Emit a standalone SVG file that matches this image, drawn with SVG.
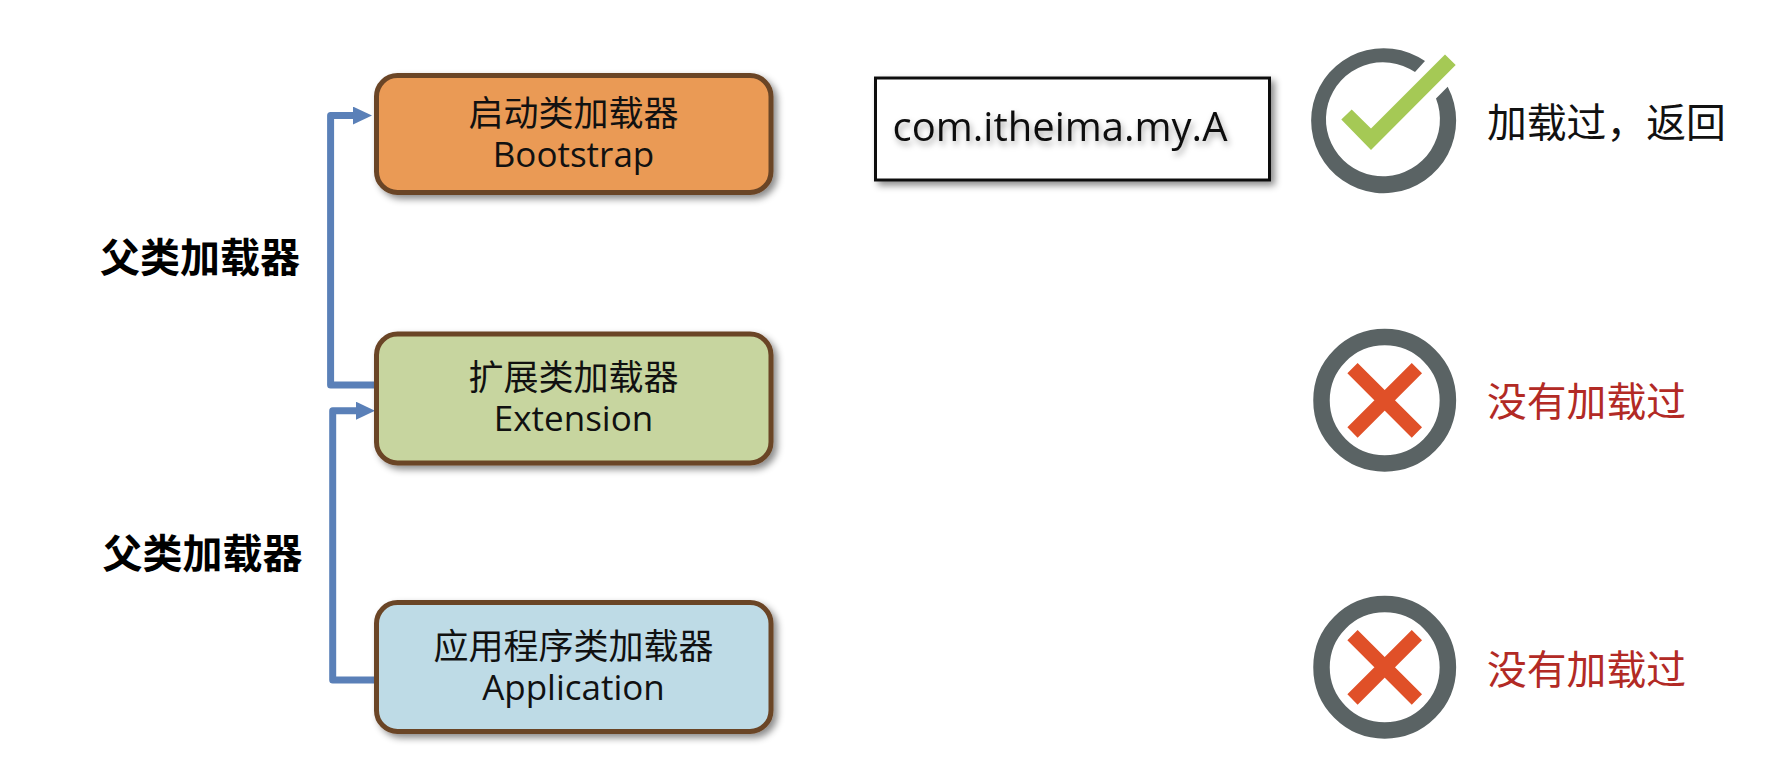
<svg xmlns="http://www.w3.org/2000/svg" width="1788" height="766" viewBox="0 0 1788 766">
<style>
text{font-family:"Open Sans","Noto Sans CJK SC",sans-serif;fill:#111;text-anchor:middle}
.box{stroke:#6a4425;stroke-width:5;filter:url(#sh)}
.t{font-size:35px}
.cn{font-family:"Noto Sans CJK SC",sans-serif}
.lab{font-family:"Noto Sans CJK SC",sans-serif;font-size:40px;font-weight:700;fill:#000}
.res{font-family:"Noto Sans CJK SC",sans-serif;font-size:39.8px;text-anchor:start}
.red{fill:#b22a25}
.ring{fill:none;stroke:#5a6364;stroke-width:16.5}
.x{stroke:#e05028;stroke-width:14.5;fill:none}
.con{fill:none;stroke:#5a80b8;stroke-width:7;stroke-linejoin:round}
</style>
<defs>
<filter id="sh" x="-10%" y="-15%" width="120%" height="135%"><feDropShadow dx="4" dy="4" stdDeviation="3.5" flood-color="#000" flood-opacity="0.45"/></filter>
<filter id="ts" x="-10%" y="-30%" width="120%" height="170%"><feDropShadow dx="2" dy="4" stdDeviation="3" flood-color="#000" flood-opacity="0.35"/></filter>
<marker id="arr" markerUnits="userSpaceOnUse" markerWidth="19" markerHeight="18" refX="1" refY="9" orient="auto"><path d="M0,0L19,9L0,18Z" fill="#5a80b8"/></marker>
<g id="cross"><circle class="ring" r="63.2"/><path class="x" d="M-32.2,-32.2L32.2,32.2M32.2,-32.2L-32.2,32.2"/></g>
</defs>
<rect width="1788" height="766" fill="#fff"/>
<g id="connectors">
<path class="con" marker-end="url(#arr)" d="M376,385H330.6V115.6H354"/>
<path class="con" marker-end="url(#arr)" d="M376,680H332.7V410.7H357"/>
</g>
<g id="bootstrap"><rect class="box" x="376.5" y="75.5" width="394.5" height="117" rx="21" fill="#ea9a55"/><text class="t" x="573.500"><tspan class="cn" x="573.500" y="126">启动类加载器</tspan><tspan x="573.500" y="167">Bootstrap</tspan></text></g>
<g id="extension"><rect class="box" x="376.5" y="334" width="394.5" height="129" rx="21" fill="#c7d59f"/><text class="t" x="573.500"><tspan class="cn" x="573.500" y="390">扩展类加载器</tspan><tspan x="573.500" y="431">Extension</tspan></text></g>
<g id="application"><rect class="box" x="376.5" y="602.5" width="394.5" height="129" rx="21" fill="#bedbe6"/><text class="t" x="573.500"><tspan class="cn" x="573.500" y="659">应用程序类加载器</tspan><tspan x="573.500" y="700">Application</tspan></text></g>
<g id="label1"><text class="lab" x="200" y="272">父类加载器</text></g>
<g id="label2"><text class="lab" x="202.500" y="568">父类加载器</text></g>
<g id="classname"><rect x="875.500" y="78" width="394" height="102" fill="#fff" stroke="#111" stroke-width="3" filter="url(#sh)"/><text x="1060" y="141" font-size="40" filter="url(#ts)">com.itheima.my.A</text></g>
<g id="check" transform="translate(0,-0.6)"><path fill="#5a6364" d="M1425,61.700A72.500 72.500 0 1 0 1447.700,87.300L1436,99A57 57 0 1 1 1415,72.700Z"/><path fill="#a5c955" d="M1445,55L1455.700,65.700L1371,150.700L1341.300,120L1351.700,110L1371,129Z"/></g>
<g id="result1"><text class="res" x="1487" y="137">加载过，返回</text></g>
<use id="cross1" href="#cross" x="1384.700" y="400.300"/>
<g id="result2"><text class="res red" x="1487" y="416">没有加载过</text></g>
<use id="cross2" href="#cross" x="1384.700" y="667.300"/>
<g id="result3"><text class="res red" x="1487" y="684">没有加载过</text></g>
</svg>
